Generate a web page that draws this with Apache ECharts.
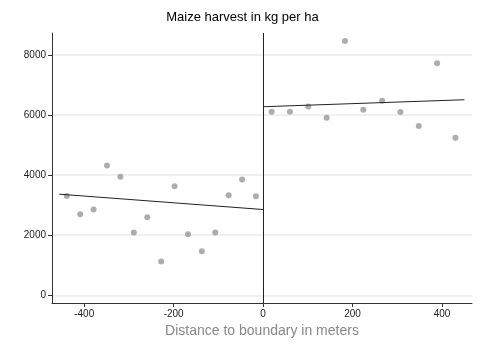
<!DOCTYPE html>
<html>
<head>
<meta charset="utf-8">
<script src="https://cdn.jsdelivr.net/npm/echarts@6/dist/echarts.min.js"></script>
<style>
html, body { margin: 0; padding: 0; background: #fff; }
#graph { width: 485px; height: 353px; }
</style>
</head>
<body>
<div id="graph"></div>
<script>
// binned means, left of boundary
var leftX = [-439, -409, -379, -349, -319, -289, -259, -228, -198, -168, -137, -107, -77, -47, -16];
var leftY = [3310, 2700, 2856, 4322, 3944, 2089, 2600, 1122, 3633, 2033, 1467, 2089, 3333, 3855, 3300];
// binned means, right of boundary
var rightX = [19, 60, 101, 142, 183, 224, 266, 307, 348, 389, 430];
var rightY = [6111, 6111, 6289, 5911, 8467, 6178, 6478, 6100, 5633, 7722, 5244];
// linear fits, endpoints
var leftFitX = [-456, 0];
var leftFitY = [3367, 2856];
var rightFitX = [0, 450];
var rightFitY = [6278, 6511];

function pairs(xs, ys) {
    return xs.map(function(x, i) { return [x, ys[i]]; });
}

var dom = document.getElementById("graph");
var chart = echarts.init(dom);

var axisColor = '#333';

chart.setOption({
    animation: false,
    title: {
        text: 'Maize harvest in kg per ha',
        left: 'center',
        top: 6,
        textStyle: { fontSize: 13, fontWeight: 'normal', color: '#000', fontFamily: 'Liberation Sans' }
    },
    grid: { left: 52, right: 13, top: 33, bottom: 50 },
    xAxis: {
        type: 'value',
        min: -472,
        max: 467,
        splitNumber: 5,
        name: 'Distance to boundary in meters',
        nameLocation: 'middle',
        nameGap: 19,
        nameTextStyle: { fontSize: 14, color: '#888', fontFamily: 'Liberation Sans' },
        axisLine: { show: true, onZero: false, lineStyle: { color: axisColor } },
        axisTick: { show: true, length: 4, lineStyle: { color: axisColor } },
        axisLabel: { showMinLabel: false, showMaxLabel: false, fontSize: 10, color: '#222', margin: 6, fontFamily: 'Liberation Sans',
            formatter: function(v) { return String(v); } },
        splitLine: { show: false }
    },
    yAxis: {
        type: 'value',
        min: -256,
        max: 8733,
        splitNumber: 4,
        axisLine: { show: true, onZero: false, lineStyle: { color: axisColor } },
        axisTick: { show: true, length: 4, lineStyle: { color: axisColor } },
        axisLabel: { showMinLabel: false, showMaxLabel: false, fontSize: 10, color: '#222', margin: 6, fontFamily: 'Liberation Sans',
            formatter: function(v) { return String(v); } },
        splitLine: { show: true, showMinLine: false, showMaxLine: false, lineStyle: { color: '#ebebeb', width: 1.5 } }
    },
    series: [
        {
            type: 'scatter',
            symbolSize: 6,
            itemStyle: { color: '#999' },
            data: pairs(leftX, leftY),
            markLine: {
                silent: true,
                symbol: 'none',
                label: { show: false },
                lineStyle: { color: '#222', type: 'solid', width: 1 },
                data: [{ xAxis: 0 }]
            }
        },
        {
            type: 'scatter',
            symbolSize: 6,
            itemStyle: { color: '#999' },
            data: pairs(rightX, rightY)
        },
        {
            type: 'line',
            showSymbol: false,
            lineStyle: { color: '#222', width: 1 },
            data: pairs(leftFitX, leftFitY)
        },
        {
            type: 'line',
            showSymbol: false,
            lineStyle: { color: '#222', width: 1 },
            data: pairs(rightFitX, rightFitY)
        }
    ]
});
</script>
</body>
</html>
